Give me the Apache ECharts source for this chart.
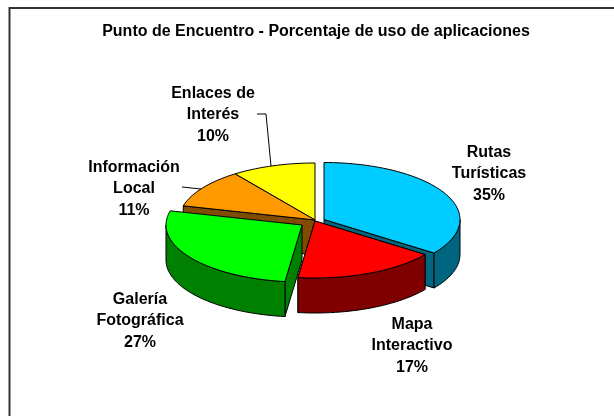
<!DOCTYPE html>
<html>
<head>
<meta charset="utf-8">
<style>
  html, body { margin: 0; padding: 0; background: #fff; }
  #chart { width: 614px; height: 416px; }
</style>
<script src="https://cdn.jsdelivr.net/npm/echarts@6/dist/echarts.min.js"></script>
</head>
<body>
<div id="chart"></div>
<script>
const categories = ["Rutas\nTurísticas", "Mapa\nInteractivo", "Galería\nFotográfica", "Información\nLocal", "Enlaces de\nInterés"];
const values = [35, 17, 27, 11, 10];

const topColors = ["#00ccff", "#ff0000", "#00ff00", "#ff9900", "#ffff00"];
const sideColors = ["#006680", "#800000", "#008000", "#804d00", "#808000"];
// slice apex on screen, pie is tilted so radii differ
const apexes = [[324, 219.5], [315, 221], [302, 225], [315, 220], [315, 220]];
const labelPos = [[489, 174], [412, 346], [140, 321], [134, 189], [213, 115]];
// painter's order, back slices first
const drawOrder = [4, 3, 0, 1, 2];
const rx = 136;
const ry = 57;
const depth = 35;

const total = values.reduce((a, b) => a + b, 0);

const sliceAngles = (i) => {
  const before = values.slice(0, i).reduce((a, b) => a + b, 0);
  return [(before / total) * 360, ((before + values[i]) / total) * 360];
};

const rimPoint = (apex, deg, dy) => {
  const r = (deg * Math.PI) / 180;
  return [apex[0] + rx * Math.sin(r), apex[1] - ry * Math.cos(r) + dy];
};

const arcPoints = (apex, from, to, dy) => {
  const pts = [];
  const steps = Math.max(2, Math.ceil(Math.abs(to - from) / 2));
  for (let s = 0; s <= steps; s++) {
    pts.push(rimPoint(apex, from + ((to - from) * s) / steps, dy));
  }
  return pts;
};

const face = (points, fill) => ({
  type: "polygon",
  shape: { points: points },
  style: { fill: fill, stroke: "#000", lineWidth: 1 },
});

const renderSlice = (params, api) => {
  const i = api.value(0);
  const apex = apexes[i];
  const [start, end] = sliceAngles(i);
  const children = [];

  // only walls that face the viewer
  const wallEdge = (deg) => {
    const rim = rimPoint(apex, deg, 0);
    children.push(face([apex, rim, [rim[0], rim[1] + depth], [apex[0], apex[1] + depth]], sideColors[i]));
  };
  if (end > 90 && end < 270) wallEdge(end);
  if (start > 90 && start < 270) wallEdge(start);
  if (start >= 270 && start < 290) wallEdge(start);

  const from = Math.max(start, 90);
  const to = Math.min(end, 270);
  if (to > from) {
    const front = arcPoints(apex, from, to, 0);
    const back = arcPoints(apex, to, from, depth);
    children.push(face(front.concat(back), sideColors[i]));
  }

  children.push(face([apex].concat(arcPoints(apex, start, end, 0)), topColors[i]));
  return { type: "group", children: children };
};

const labelGraphics = categories.map((name, i) => ({
  type: "text",
  x: labelPos[i][0],
  y: labelPos[i][1],
  style: {
    text: name + "\n" + values[i] + "%",
    font: "bold 16px 'Liberation Sans', Arial, sans-serif",
    fill: "#000",
    align: "center",
    verticalAlign: "middle",
    lineHeight: 21.5,
  },
}));

const line = (points, color, width) => ({
  type: "polyline",
  shape: { points: points },
  style: { stroke: color, lineWidth: width, fill: null },
});

const option = {
  animation: false,
  backgroundColor: "#fff",
  title: {
    text: "Punto de Encuentro - Porcentaje de uso de aplicaciones",
    left: 311,
    top: 19,
    textAlign: "center",
    textStyle: {
      fontFamily: "'Liberation Sans', Arial, sans-serif",
      fontWeight: "bold",
      fontSize: 16,
      color: "#000",
    },
  },
  graphic: [
    line([[9.5, 416], [9.5, 8], [614, 8]], "#333", 2),
    line([[257, 114], [266, 114], [271, 166]], "#000", 1),
    line([[182, 187], [201, 189]], "#000", 1),
  ].concat(labelGraphics),
  series: [
    {
      type: "custom",
      coordinateSystem: "none",
      silent: true,
      renderItem: renderSlice,
      data: drawOrder.map((i) => [i, values[i]]),
    },
  ],
};

const myChart = echarts.init(document.getElementById("chart"));
myChart.setOption(option);
</script>
</body>
</html>
